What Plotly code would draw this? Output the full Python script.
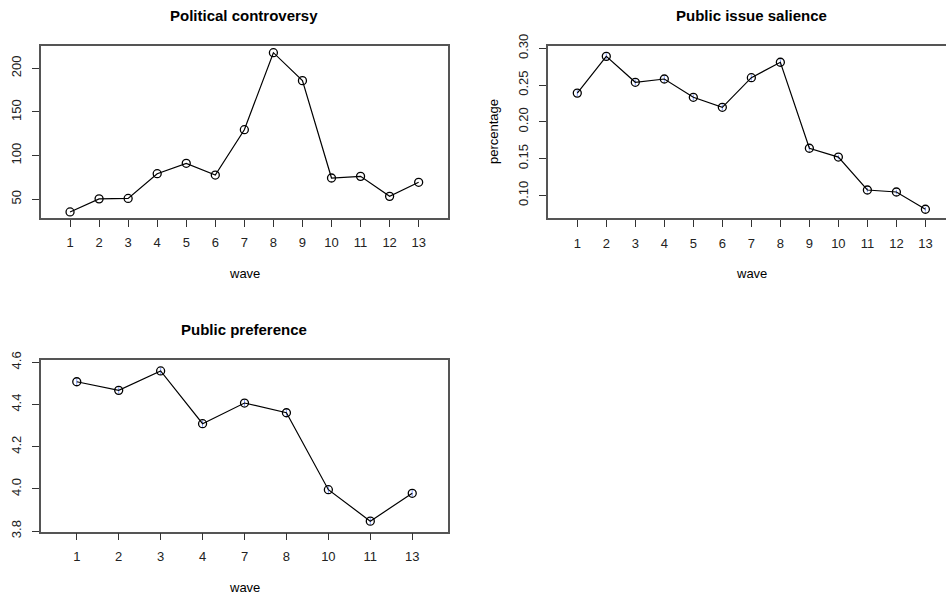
import plotly.graph_objects as go

# ---- data ----
waves_all = [1, 2, 3, 4, 5, 6, 7, 8, 9, 10, 11, 12, 13]
controversy = [35.5, 50.5, 51, 79.3, 91.2, 77.8, 129.7, 217.9, 185.9, 74.4, 76.3, 53.4, 69.5]
salience = [0.239, 0.289, 0.2537, 0.2582, 0.2333, 0.2197, 0.260, 0.281, 0.164, 0.152, 0.1072, 0.1045, 0.081]
salience_err = [0.004, 0.004, 0.004, 0.004, 0.004, 0.004, 0.004, 0.004, 0.003, 0.003, 0.003, 0.003, 0.003]
pref_waves = ["1", "2", "3", "4", "7", "8", "10", "11", "13"]
preference = [4.508, 4.467, 4.559, 4.309, 4.407, 4.361, 3.996, 3.847, 3.979]
preference_err = [0.015, 0.015, 0.015, 0.015, 0.015, 0.015, 0.015, 0.015, 0.015]

W, H = 946, 594
FONT = "Liberation Sans, Arial, Helvetica, sans-serif"
BOX = "#555555"
ERR = "#7f9cff"

def px_x(p):
    return p / W

def px_y(p):
    return 1 - p / H

fig = go.Figure()

line = dict(color="black", width=1.2)
marker = dict(symbol="circle-open", size=8, color="black", line=dict(width=1.3, color="black"))

fig.add_trace(go.Scatter(x=waves_all, y=controversy, mode="lines+markers",
                         line=line, marker=marker, xaxis="x", yaxis="y"))
fig.add_trace(go.Scatter(x=waves_all, y=salience, mode="lines+markers",
                         line=line, marker=marker, xaxis="x2", yaxis="y2",
                         error_y=dict(type="data", array=salience_err, color=ERR,
                                      thickness=1, width=0)))
pref_pos = list(range(1, len(pref_waves) + 1))
fig.add_trace(go.Scatter(x=pref_pos, y=preference, mode="lines+markers",
                         line=line, marker=marker, xaxis="x3", yaxis="y3",
                         error_y=dict(type="data", array=preference_err, color=ERR,
                                      thickness=1, width=0)))

common_x = dict(showgrid=False, zeroline=False, showline=True, linecolor=BOX, linewidth=1.5,
                ticks="outside", ticklen=7, tickcolor="#333", tickwidth=1, automargin=False,
                tickfont=dict(family=FONT, size=13, color="#222"), ticklabelstandoff=5)
common_y = dict(showgrid=False, zeroline=False, showline=True, linecolor=BOX, linewidth=1.5,
                ticks="outside", ticklen=7, tickcolor="#333", tickwidth=1, tickangle=-90,
                automargin=False,
                tickfont=dict(family=FONT, size=13, color="#222"), ticklabelstandoff=6)

fig.update_layout(
    width=W, height=H, margin=dict(l=0, r=0, t=0, b=0, autoexpand=False),
    paper_bgcolor="white", plot_bgcolor="white", showlegend=False,
    xaxis=dict(**common_x, domain=[px_x(40.7), px_x(448)], range=[-0.01, 14.01],
               tickmode="array", tickvals=waves_all, ticktext=[str(w) for w in waves_all],
               mirror=True, anchor="y"),
    yaxis=dict(**common_y, domain=[px_y(218), px_y(45.7)], range=[28.6, 225.9],
               tickvals=[50, 100, 150, 200], mirror=True, anchor="x"),
    xaxis2=dict(**common_x, domain=[px_x(547.7), 1.0], range=[-0.02, 13.71],
                tickmode="array", tickvals=waves_all, ticktext=[str(w) for w in waves_all],
                mirror=True, anchor="y2"),
    yaxis2=dict(**common_y, domain=[px_y(218.3), px_y(46)], range=[0.0687, 0.3031],
                tickvals=[0.10, 0.15, 0.20, 0.25, 0.30],
                ticktext=["0.10", "0.15", "0.20", "0.25", "0.30"], mirror=False, anchor="x2"),
    xaxis3=dict(**common_x, domain=[px_x(40.7), px_x(448.3)], range=[0.14, 9.86],
                tickmode="array", tickvals=pref_pos, ticktext=pref_waves,
                mirror=True, anchor="y3"),
    yaxis3=dict(**common_y, domain=[px_y(531.7), px_y(360)], range=[3.797, 4.611],
                tickvals=[3.8, 4.0, 4.2, 4.4, 4.6],
                ticktext=["3.8", "4.0", "4.2", "4.4", "4.6"], mirror=True, anchor="x3"),
)

def text(x, y, s, size=12, bold=False, angle=0):
    fig.add_annotation(x=px_x(x), y=px_y(y), xref="paper", yref="paper",
                       text=f"<b>{s}</b>" if bold else s, showarrow=False,
                       textangle=angle, xanchor="center", yanchor="middle",
                       font=dict(family=FONT, size=size, color="black"))

text(244.4, 15, "Political controversy", size=15, bold=True)
text(751, 15, "Public issue salience", size=15, bold=True)
text(244.4, 329, "Public preference", size=15, bold=True)
text(244.4, 273, "wave", size=13)
text(751, 273, "wave", size=13)
text(244.4, 587, "wave", size=13)
text(493, 132, "percentage", size=13, angle=-90)

fig.write_html("out.html")
